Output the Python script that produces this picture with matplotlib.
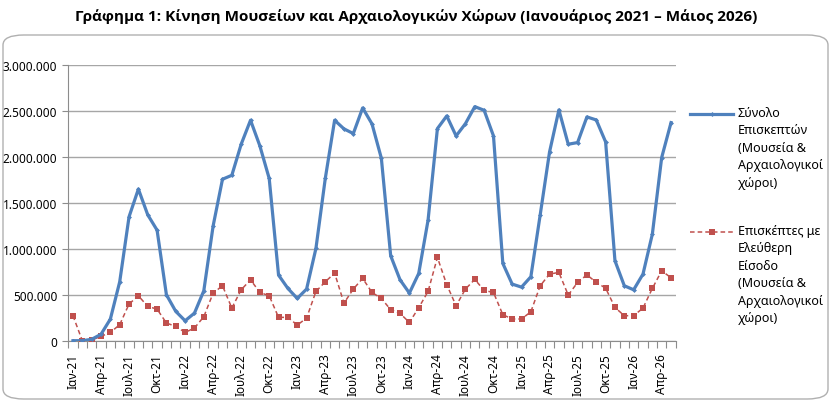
import numpy as np
import matplotlib
matplotlib.use("Agg")
import matplotlib.pyplot as plt
from matplotlib.patches import FancyBboxPatch
from matplotlib.lines import Line2D
from matplotlib.ticker import FuncFormatter, FixedLocator

plt.rcParams['font.family'] = ['Noto Sans', 'DejaVu Sans']

months_gr = ["Ιαν", "Φεβ", "Μαρ", "Απρ", "Μαϊ", "Ιουν",
             "Ιουλ", "Αυγ", "Σεπ", "Οκτ", "Νοε", "Δεκ"]
years = [21, 22, 23, 24, 25, 26]
labels = [f"{m}-{y}" for y in years for m in months_gr][:65]   # Ιαν-21 .. Μαϊ-26

# Σύνολο Επισκεπτών (Μουσεία & Αρχαιολογικοί χώροι)
total = [0, 0, 15000, 70000, 235000, 640000, 1348000, 1650000, 1370000, 1203000, 500000, 319000,
         217000, 300000, 543000, 1250000, 1757000, 1800000, 2138000, 2399000, 2120000, 1765000, 714000, 569000,
         460000, 562000, 1004000, 1765000, 2399000, 2305000, 2254000, 2533000, 2359000, 1986000, 924000, 663000,
         518000, 732000, 1312000, 2308000, 2446000, 2228000, 2362000, 2547000, 2507000, 2228000, 841000, 616000,
         583000, 696000, 1370000, 2054000, 2511000, 2138000, 2156000, 2435000, 2402000, 2163000, 870000, 598000,
         554000, 725000, 1159000, 1993000, 2373000]

# Επισκέπτες με Ελεύθερη Είσοδο (Μουσεία & Αρχαιολογικοί χώροι)
free = [272000, 0, 7000, 47000, 90000, 174000, 399000, 489000, 373000, 344000, 192000, 156000,
        90000, 138000, 261000, 518000, 598000, 355000, 554000, 663000, 525000, 489000, 254000, 254000,
        170000, 246000, 536000, 641000, 736000, 409000, 562000, 678000, 525000, 460000, 337000, 297000,
        199000, 359000, 536000, 906000, 609000, 380000, 562000, 667000, 547000, 525000, 283000, 236000,
        236000, 315000, 598000, 725000, 743000, 496000, 634000, 717000, 634000, 572000, 362000, 272000,
        272000, 355000, 569000, 761000, 685000]

title = "Γράφημα 1: Κίνηση Μουσείων και Αρχαιολογικών Χώρων (Ιανουάριος 2021 – Μάιος 2026)"
legend_total = "Σύνολο\nΕπισκεπτών\n(Μουσεία &\nΑρχαιολογικοί\nχώροι)"
legend_free = "Επισκέπτες με\nΕλεύθερη\nΕίσοδο\n(Μουσεία &\nΑρχαιολογικοί\nχώροι)"

blue = "#4F81BD"
red = "#C0504D"
W, H = 832, 402

fig = plt.figure(figsize=(W / 100, H / 100), dpi=100)

# rounded chart border
border = FancyBboxPatch((3 / W, 2 / H), 825 / W, 364 / H,
                        boxstyle="round,pad=0,rounding_size=0.025",
                        transform=fig.transFigure, facecolor="none",
                        edgecolor="#B0B0B0", linewidth=1.0, zorder=-1)
fig.patches.append(border)

fig.text(0.5, 1 - 17 / H, title, ha="center", va="center",
         fontsize=11, fontweight="bold", family=['Open Sans', 'DejaVu Sans'])

ax = fig.add_axes([68.3 / W, 1 - 341.7 / H, (675.7 - 68.3) / W, (341.7 - 66) / H])
ax.patch.set_alpha(0)

x = np.arange(len(labels))
ax.plot(x, total, color=blue, linewidth=2.3, marker="D", markersize=2.5,
        markeredgewidth=0, zorder=4)
ax.plot(x, free, color=red, linewidth=1.1, linestyle=(0, (3, 2)),
        marker="s", markersize=3.8, markeredgewidth=0, zorder=3)

ax.set_xlim(-0.5, len(labels) - 0.5)
ax.set_ylim(0, 3000000)
ax.set_yticks(np.arange(0, 3000001, 500000))
ax.yaxis.set_major_formatter(FuncFormatter(lambda v, p: f"{int(v):,}".replace(",", ".")))
ax.grid(axis="y", color="#A6A6A6", linewidth=1.0)
ax.set_axisbelow(True)

ax.set_xticks(x[::3])
ax.set_xticklabels(labels[::3], rotation=90)
ax.xaxis.set_minor_locator(FixedLocator(np.arange(-0.5, len(labels), 1)))
ax.tick_params(axis="x", which="major", length=0, pad=9, labelsize=8.5)
ax.tick_params(axis="x", which="minor", length=5, color="#8C8C8C", width=0.8)
ax.tick_params(axis="y", length=4, color="#8C8C8C", width=0.8, labelsize=8.5, pad=4)

for s in ["top", "right"]:
    ax.spines[s].set_visible(False)
for s in ["left", "bottom"]:
    ax.spines[s].set_color("#8C8C8C")
    ax.spines[s].set_linewidth(0.8)

# legend drawn to the right of the plot
def legend_entry(y_px, color, lw, ls, marker, ms, text):
    yf = 1 - y_px / H
    fig.add_artist(Line2D([690 / W, 733 / W], [yf, yf], color=color, linewidth=lw,
                          linestyle=ls, transform=fig.transFigure))
    fig.add_artist(Line2D([711.5 / W], [yf], color=color, marker=marker, markersize=ms,
                          markeredgewidth=0, linestyle="none", transform=fig.transFigure))
    fig.text(738 / W, yf + 8 / H, text, ha="left", va="top", fontsize=9,
             linespacing=1.45)

legend_entry(115, blue, 2.3, "-", "D", 2.5, legend_total)
legend_entry(233, red, 1.1, (0, (3, 2)), "s", 3.8, legend_free)

fig.savefig("out.png", dpi=100)
